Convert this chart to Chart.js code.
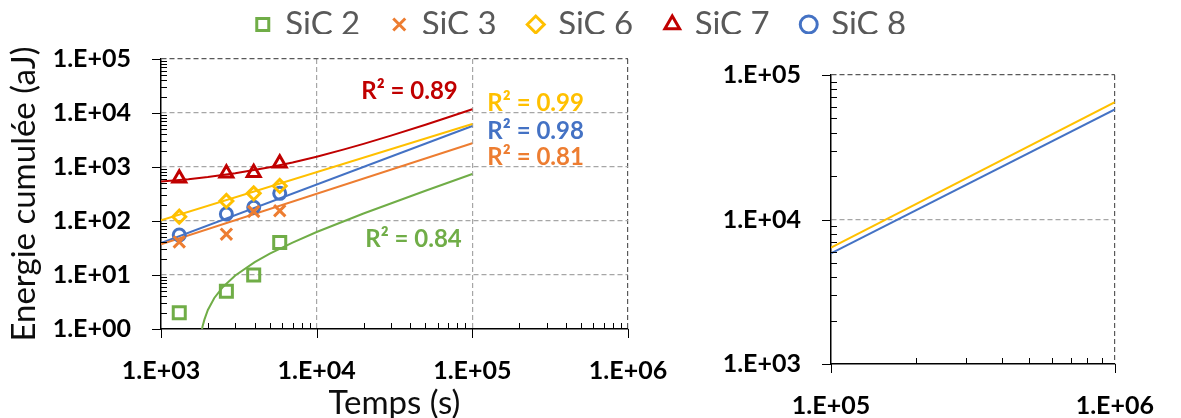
<!DOCTYPE html>
<html>
<head>
<meta charset="utf-8">
<script src="https://cdn.jsdelivr.net/npm/chart.js@4.4.1/dist/chart.umd.min.js"></script>
<style>
    html, body { margin: 0; padding: 0; background: #ffffff; }
    #wrap { position: relative; width: 1181px; height: 418px; overflow: hidden; }
    #mainChart { position: absolute; left: 0; top: 0; }
    #zoomChart { position: absolute; left: 700px; top: 0; }
</style>
</head>
<body>
<div id="wrap">
    <canvas id="mainChart" width="1181" height="418" style="width:1181px;height:418px"></canvas>
    <canvas id="zoomChart" width="481" height="418" style="width:481px;height:418px"></canvas>
</div>
<script>
// ── Data ───────────────────────────────────────────────────
const seriesNames = ['SiC 2', 'SiC 3', 'SiC 6', 'SiC 7', 'SiC 8'];
const timeS = [1310, 2630, 3940, 5790];
const sic2 = [2, 5, 10, 40];
const sic3 = [41, 57, 150, 155];
const sic6 = [120, 235, 325, 445];
const sic7 = [620, 765, 785, 1170];
const sic8 = [55, 135, 180, 325];

// trend lines
const trendPowX = [1000, 100000];
const trendSic3 = [37, 2750];
const trendSic6 = [103, 6250];
const trendSic8 = [39, 5750];
const trendSic7X = [1000, 1500, 2000, 3000, 5000, 7000, 10000, 15000, 20000, 30000, 50000, 70000, 100000];
const trendSic7 = [540, 596, 652, 765, 990, 1216, 1554, 2118, 2681, 3808, 6062, 8316, 11700];
const trendSic2X = [1750, 1800, 1850, 1900, 2000, 2200, 2500, 3000, 4000, 5000, 7000, 10000, 20000, 50000, 100000];
const trendSic2 = [0.36, 0.74, 1.12, 1.49, 2.25, 3.75, 6.01, 9.77, 17.3, 24.8, 39.9, 62.5, 137.8, 363.6, 740];

// R² labels: text + anchor in data units (x, y)
const r2Text = ['R² = 0.84', 'R² = 0.81', 'R² = 0.99', 'R² = 0.89', 'R² = 0.98'];
const r2AtX = [41900, 255000, 255000, 39500, 255000];
const r2AtY = [46.4, 1530, 15300, 25500, 4640];

// right panel (zoom on 1e5..1e6)
const zoomX = [100000, 1000000];
const zoomSic6 = [6400, 64900];
const zoomSic8 = [5820, 57700];

// axes
const xDecades = [1000, 10000, 100000, 1000000];
const xTickLabels = ['1.E+03', '1.E+04', '1.E+05', '1.E+06'];
const yDecades = [1, 10, 100, 1000, 10000, 100000];
const yTickLabels = ['1.E+00', '1.E+01', '1.E+02', '1.E+03', '1.E+04', '1.E+05'];
const zoomXDecades = [100000, 1000000];
const zoomXTickLabels = ['1.E+05', '1.E+06'];
const zoomYDecades = [1000, 10000, 100000];
const zoomYTickLabels = ['1.E+03', '1.E+04', '1.E+05'];

// ── Styles ─────────────────────────────────────────────────
const colors = ['#70AD47', '#ED7D31', '#FFC000', '#C00000', '#4472C4'];
const markers = ['rect', 'crossRot', 'rectRot', 'triangle', 'circle'];
const markerSize = [8.5, 8, 6.5, 7.5, 6];
const FONT = 'Lato, "Open Sans", sans-serif';
Chart.defaults.font.family = FONT;

function isDecade(v) {
    const l = Math.log10(v);
    return Math.abs(l - Math.round(l)) < 1e-9;
}

function pts(xs, ys) {
    return xs.map((x, i) => ({ x, y: ys[i] }));
}

// log axis with 2..9 minor ticks, labels only on decades
function logAxis(decades, labels, gridAt, extra) {
    const max = decades[decades.length - 1];
    const axis = {
        type: 'logarithmic',
        min: decades[0],
        max: max,
        afterBuildTicks(scale) {
            const ticks = [];
            decades.forEach((d, i) => {
                ticks.push({ value: d });
                if (i < decades.length - 1) {
                    for (let m = 2; m <= 9; m++) ticks.push({ value: d * m });
                }
            });
            scale.ticks = ticks;
        },
        ticks: {
            autoSkip: false,
            maxRotation: 0,
            minRotation: 0,
            color: '#000',
            font: { family: FONT, size: 25, weight: 'bold' },
            callback: v => {
                const i = decades.indexOf(v);
                return i >= 0 ? labels[i] : '';
            }
        },
        grid: {
            drawTicks: false,
            lineWidth: 1.2,
            color: ctx => {
                const v = ctx.tick ? ctx.tick.value : null;
                if (v === max) return '#595959';
                if (gridAt.indexOf(v) >= 0) return '#a6a6a6';
                return 'rgba(0,0,0,0)';
            }
        },
        border: { color: '#000', width: 1.5, dash: [5, 3] }
    };
    return Object.assign(axis, extra);
}

// major ticks outside, minor ticks inside (Excel style)
const tickMarks = {
    id: 'tickMarks',
    afterDraw(chart) {
        const { ctx, chartArea: a } = chart;
        const xs = chart.scales.x, ys = chart.scales.y;
        ctx.save();
        ctx.strokeStyle = '#000';
        ctx.lineWidth = 1;
        ctx.beginPath();
        xs.ticks.forEach(t => {
            const p = Math.round(xs.getPixelForValue(t.value)) + 0.5;
            ctx.moveTo(p, a.bottom);
            ctx.lineTo(p, isDecade(t.value) ? a.bottom + 9 : a.bottom - 6);
        });
        ys.ticks.forEach(t => {
            const p = Math.round(ys.getPixelForValue(t.value)) + 0.5;
            ctx.moveTo(a.left, p);
            ctx.lineTo(isDecade(t.value) ? a.left - 9 : a.left + 6, p);
        });
        ctx.stroke();
        ctx.restore();
    }
};

const r2Labels = {
    id: 'r2Labels',
    afterDatasetsDraw(chart) {
        const { ctx } = chart;
        const xs = chart.scales.x, ys = chart.scales.y;
        ctx.save();
        ctx.font = 'bold 24px ' + FONT;
        ctx.textAlign = 'center';
        ctx.textBaseline = 'middle';
        r2Text.forEach((t, i) => {
            ctx.fillStyle = colors[i];
            ctx.fillText(t, xs.getPixelForValue(r2AtX[i]), ys.getPixelForValue(r2AtY[i]));
        });
        ctx.restore();
    }
};

// legend sits high above the plot, like the original
const liftLegend = {
    id: 'liftLegend',
    afterLayout(chart) {
        const lg = chart.legend;
        lg.top -= 25;
        lg.bottom -= 25;
    }
};

// ── Main chart ─────────────────────────────────────────────
const series = [sic2, sic3, sic6, sic7, sic8];
const pointSets = series.map((s, i) => ({
    label: seriesNames[i],
    data: pts(timeS, s),
    pointStyle: markers[i],
    pointRadius: markerSize[i],
    pointHoverRadius: markerSize[i],
    borderColor: colors[i],
    backgroundColor: 'rgba(255,255,255,0)',
    borderWidth: 3,
    showLine: false
}));

function trendSet(xs, ys, color) {
    return {
        label: 'trend',
        data: pts(xs, ys),
        borderColor: color,
        borderWidth: 2,
        pointRadius: 0,
        showLine: true,
        tension: 0
    };
}

const trendSets = [
    trendSet(trendSic2X, trendSic2, colors[0]),
    trendSet(trendPowX, trendSic3, colors[1]),
    trendSet(trendPowX, trendSic6, colors[2]),
    trendSet(trendSic7X, trendSic7, colors[3]),
    trendSet(trendPowX, trendSic8, colors[4])
];

const mainChart = new Chart(document.getElementById('mainChart'), {
    type: 'scatter',
    data: { datasets: pointSets.concat(trendSets) },
    options: {
        responsive: false,
        animation: false,
        layout: { padding: { left: 0, right: 18, top: 0, bottom: 0 } },
        plugins: {
            tooltip: { enabled: false },
            legend: {
                position: 'top',
                maxHeight: 59,
                labels: {
                    usePointStyle: true,
                    boxWidth: 12,
                    boxHeight: 12,
                    padding: 33,
                    color: '#595959',
                    font: { family: FONT, size: 33 },
                    filter: item => item.datasetIndex < seriesNames.length
                }
            }
        },
        scales: {
            x: logAxis(xDecades, xTickLabels, [10000, 100000], {
                position: 'bottom',
                afterFit(s) { s.height = 89; },
                title: {
                    display: true, text: 'Temps (s)', color: '#0d0d0d',
                    font: { family: FONT, size: 33, lineHeight: 0.9 }, padding: 0
                }
            }),
            y: logAxis(yDecades, yTickLabels, [10, 100, 1000, 10000], {
                position: 'left',
                afterFit(s) { s.width = 161; },
                title: {
                    display: true, text: 'Energie cumulée (aJ)', color: '#0d0d0d',
                    font: { family: FONT, size: 33, lineHeight: 1 }, padding: { top: 8, bottom: 0 }
                }
            }),
            // empty box that keeps the right half free for the zoom panel
            side: {
                type: 'linear', position: 'right', display: true,
                grid: { display: false }, ticks: { display: false }, border: { display: false },
                afterFit(s) { s.width = 535; }
            }
        }
    },
    plugins: [tickMarks, r2Labels, liftLegend]
});

mainChart.options.scales.x.ticks.padding = 27;
mainChart.options.scales.y.ticks.padding = 30;
mainChart.update();

// ── Zoom panel ─────────────────────────────────────────────
const zoomChart = new Chart(document.getElementById('zoomChart'), {
    type: 'scatter',
    data: {
        datasets: [
            trendSet(zoomX, zoomSic6, colors[2]),
            trendSet(zoomX, zoomSic8, colors[4])
        ]
    },
    options: {
        responsive: false,
        animation: false,
        layout: { padding: { left: 0, right: 53, top: 75, bottom: 0 } },
        plugins: { legend: { display: false }, tooltip: { enabled: false } },
        scales: {
            x: logAxis(zoomXDecades, zoomXTickLabels, [], {
                position: 'bottom',
                afterFit(s) { s.height = 54; }
            }),
            y: logAxis(zoomYDecades, zoomYTickLabels, [10000], {
                position: 'left',
                afterFit(s) { s.width = 131; }
            })
        }
    },
    plugins: [tickMarks]
});
zoomChart.options.scales.x.ticks.padding = 27;
zoomChart.options.scales.y.ticks.padding = 30;
zoomChart.update();
</script>
</body>
</html>
